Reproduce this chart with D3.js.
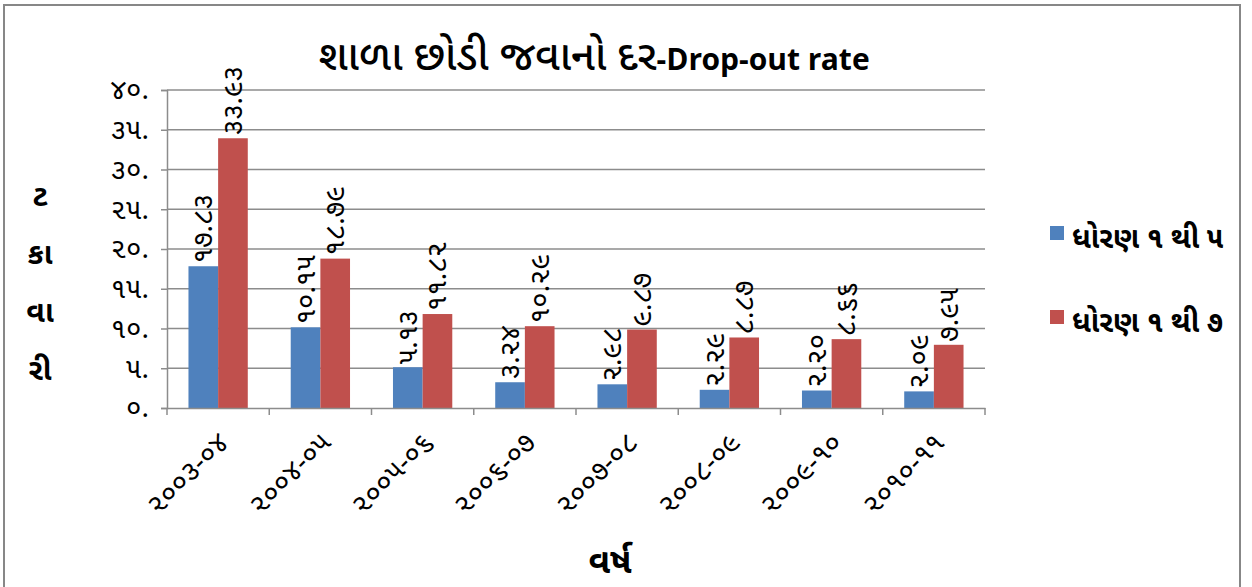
<!DOCTYPE html>
<html lang="gu">
<head>
<meta charset="UTF-8">
<script src="https://d3js.org/d3.v7.min.js"></script>
<style>
  html, body { margin: 0; padding: 0; background: #fff; }
  svg { display: block; }
  text { font-family: "Noto Sans Gujarati", "Lohit Gujarati", "Noto Sans", sans-serif; fill: #000; }
</style>
<title>Drop-out rate</title>
</head>
<body>
<div id="chart"></div>
<script>
// data
var years = ["૨૦૦૩-૦૪", "૨૦૦૪-૦૫", "૨૦૦૫-૦૬", "૨૦૦૬-૦૭", "૨૦૦૭-૦૮", "૨૦૦૮-૦૯", "૨૦૦૯-૧૦", "૨૦૧૦-૧૧"];
var std1to5 = [17.83, 10.15, 5.13, 3.24, 2.98, 2.29, 2.20, 2.09];
var std1to7 = [33.93, 18.79, 11.82, 10.29, 9.87, 8.87, 8.66, 7.95];
var seriesNames = ["ધોરણ ૧ થી ૫", "ધોરણ ૧ થી ૭"];
var seriesColors = ["#4F81BD", "#C0504D"];
var yTicks = [0, 5, 10, 15, 20, 25, 30, 35, 40];
var yTitleParts = ["ટ", "કા", "વા", "રી"];

var W = 1252, H = 587;
var margin = {left: 167, right: 267, top: 90, bottom: 179};

var guDigits = "૦૧૨૩૪૫૬૭૮૯";
function toGu(s) {
    return String(s).replace(/[0-9]/g, function (c) { return guDigits[+c]; });
}

var svg = d3.select("#chart").append("svg")
    .attr("width", W)
    .attr("height", H);

// outer border
svg.append("rect")
    .attr("x", 4).attr("y", 5)
    .attr("width", 1236).attr("height", 590)
    .attr("fill", "none")
    .attr("stroke", "#878787")
    .attr("stroke-width", 2);

var x0 = d3.scaleBand()
    .domain(years)
    .range([margin.left, W - margin.right])
    .paddingInner(0.42)
    .paddingOuter(0.21);

var x1 = d3.scaleBand()
    .domain([0, 1])
    .range([0, x0.bandwidth()]);

var y = d3.scaleLinear()
    .domain([0, 40])
    .range([H - margin.bottom, margin.top]);

// gridlines
svg.append("g")
    .selectAll("line")
    .data(yTicks.slice(1))
    .enter().append("line")
    .attr("x1", margin.left).attr("x2", W - margin.right)
    .attr("y1", function (d) { return y(d); })
    .attr("y2", function (d) { return y(d); })
    .attr("stroke", "#8c8c8c")
    .attr("stroke-width", 1.5);

// y axis
var yAxis = svg.append("g")
    .attr("transform", "translate(" + margin.left + ",0)")
    .call(d3.axisLeft(y).tickValues(yTicks).tickSize(6).tickPadding(12)
        .tickFormat(function (d) { return toGu(d) + "."; }));
yAxis.selectAll("line, path").attr("stroke", "#8c8c8c").attr("stroke-width", 1.5);
yAxis.selectAll("text").style("font-size", "28px").attr("fill", "#000");

// bars
var data = years.map(function (yr, i) {
    return {year: yr, vals: [std1to5[i], std1to7[i]]};
});

var groups = svg.append("g")
    .selectAll("g")
    .data(data)
    .enter().append("g")
    .attr("transform", function (d) { return "translate(" + x0(d.year) + ",0)"; });

groups.selectAll("rect")
    .data(function (d) { return d.vals; })
    .enter().append("rect")
    .attr("x", function (d, i) { return x1(i); })
    .attr("y", function (d) { return y(d); })
    .attr("width", x1.bandwidth())
    .attr("height", function (d) { return y(0) - y(d); })
    .attr("fill", function (d, i) { return seriesColors[i]; });

// value labels
groups.selectAll("text")
    .data(function (d) { return d.vals; })
    .enter().append("text")
    .attr("transform", function (d, i) {
        return "translate(" + (x1(i) + x1.bandwidth() / 2 + 9) + "," + (y(d) - 3) + ") rotate(-90)";
    })
    .style("font-size", "28px")
    .text(function (d) { return toGu(d.toFixed(2)); });

// x axis
var xAxis = svg.append("g")
    .attr("transform", "translate(0," + y(0) + ")")
    .call(d3.axisBottom(x0).tickSize(0).tickFormat(""));
xAxis.select("path").attr("stroke", "#8c8c8c").attr("stroke-width", 1.5);

// category tick marks (between groups)
var step = x0.step();
svg.append("g")
    .selectAll("line")
    .data(d3.range(years.length + 1))
    .enter().append("line")
    .attr("x1", function (i) { return margin.left + i * step; })
    .attr("x2", function (i) { return margin.left + i * step; })
    .attr("y1", y(0)).attr("y2", y(0) + 7)
    .attr("stroke", "#8c8c8c").attr("stroke-width", 1.5);

svg.append("g")
    .selectAll("text")
    .data(years)
    .enter().append("text")
    .attr("transform", function (d) {
        return "translate(" + (x0(d) + x0.bandwidth() / 2 + 12) + "," + (y(0) + 36) + ") rotate(-45)";
    })
    .attr("text-anchor", "end")
    .style("font-size", "28px")
    .text(function (d) { return d; });

// title
var title = svg.append("text")
    .attr("x", 594).attr("y", 70)
    .attr("text-anchor", "middle");
title.append("tspan")
    .style("font-size", "42px")
    .style("font-weight", "500")
    .text("શાળા છોડી જવાનો દર");
title.append("tspan")
    .style("font-size", "30px")
    .style("font-weight", "bold")
    .text("-Drop-out rate");

// y axis title (stacked)
svg.append("g")
    .selectAll("text")
    .data(yTitleParts)
    .enter().append("text")
    .attr("x", 40)
    .attr("y", function (d, i) { return 206 + i * 58; })
    .attr("text-anchor", "middle")
    .style("font-size", "30px")
    .style("font-weight", "bold")
    .text(function (d) { return d; });

// x axis title
svg.append("text")
    .attr("x", 610).attr("y", 573)
    .attr("text-anchor", "middle")
    .style("font-size", "35px")
    .style("font-weight", "bold")
    .text("વર્ષ");

// legend
var legend = svg.append("g")
    .selectAll("g")
    .data(seriesNames)
    .enter().append("g")
    .attr("transform", function (d, i) { return "translate(1050," + (226 + i * 84) + ")"; });
legend.append("rect")
    .attr("width", 14).attr("height", 14)
    .attr("fill", function (d, i) { return seriesColors[i]; });
legend.append("text")
    .attr("x", 22).attr("y", 22)
    .style("font-size", "29px")
    .style("font-weight", "bold")
    .text(function (d) { return d; });
</script>
</body>
</html>
